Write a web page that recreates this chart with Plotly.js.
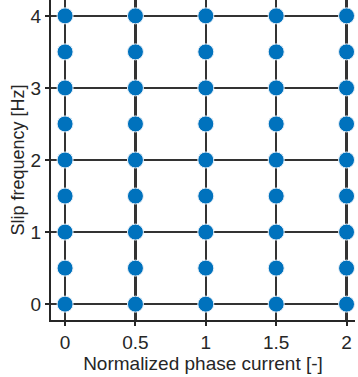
<!DOCTYPE html>
<html><head><meta charset="utf-8">
<script src="https://cdn.plot.ly/plotly-3.0.1.min.js"></script>
<style>html,body{margin:0;padding:0;background:#fff}#c{width:358px;height:377px}</style>
</head><body><div id="c"></div>
<script>
const currentLevels = [0, 0.5, 1, 1.5, 2];
const slipLevels = [0, 0.5, 1, 1.5, 2, 2.5, 3, 3.5, 4];
const xTicks = [0, 0.5, 1, 1.5, 2];
const xTickText = ['0', '0.5', '1', '1.5', '2'];
const yTicks = [0, 1, 2, 3, 4];

const xs = [], ys = [];
currentLevels.forEach(c => slipLevels.forEach(s => { xs.push(c); ys.push(s); }));

const font = {family: 'Liberation Sans, Arial, sans-serif', color: '#262626'};
Plotly.newPlot('c', [{
  x: xs, y: ys, type: 'scatter', mode: 'markers',
  marker: {size: 16, color: '#0072BD', line: {color: '#e8f0f8', width: 1}},
  hoverinfo: 'none'
}], {
  width: 358, height: 377,
  margin: {l: 51, r: 3, t: 0, b: 57},
  paper_bgcolor: '#fff', plot_bgcolor: '#fff',
  showlegend: false,
  xaxis: {
    range: [-0.1, 2.06], tickvals: xTicks, ticktext: xTickText,
    showgrid: true, gridcolor: '#333333', gridwidth: 2.2, zeroline: false,
    showline: true, linecolor: '#262626', linewidth: 2,
    ticks: 'outside', ticklen: 4, tickwidth: 2, tickcolor: '#262626',
    tickfont: Object.assign({size: 19}, font),
    title: {text: 'Normalized phase current [-]', font: Object.assign({size: 19}, font), standoff: 3}
  },
  yaxis: {
    range: [-0.22, 4.22], tickvals: yTicks,
    showgrid: true, gridcolor: '#333333', gridwidth: 2.2, zeroline: false,
    showline: true, linecolor: '#262626', linewidth: 2,
    ticks: 'outside', ticklen: 4, tickwidth: 2, tickcolor: '#262626',
    tickfont: Object.assign({size: 19}, font),
    title: {text: 'Slip frequency [Hz]', font: Object.assign({size: 18}, font), standoff: 1}
  }
}, {displayModeBar: false, staticPlot: true});
</script></body></html>
